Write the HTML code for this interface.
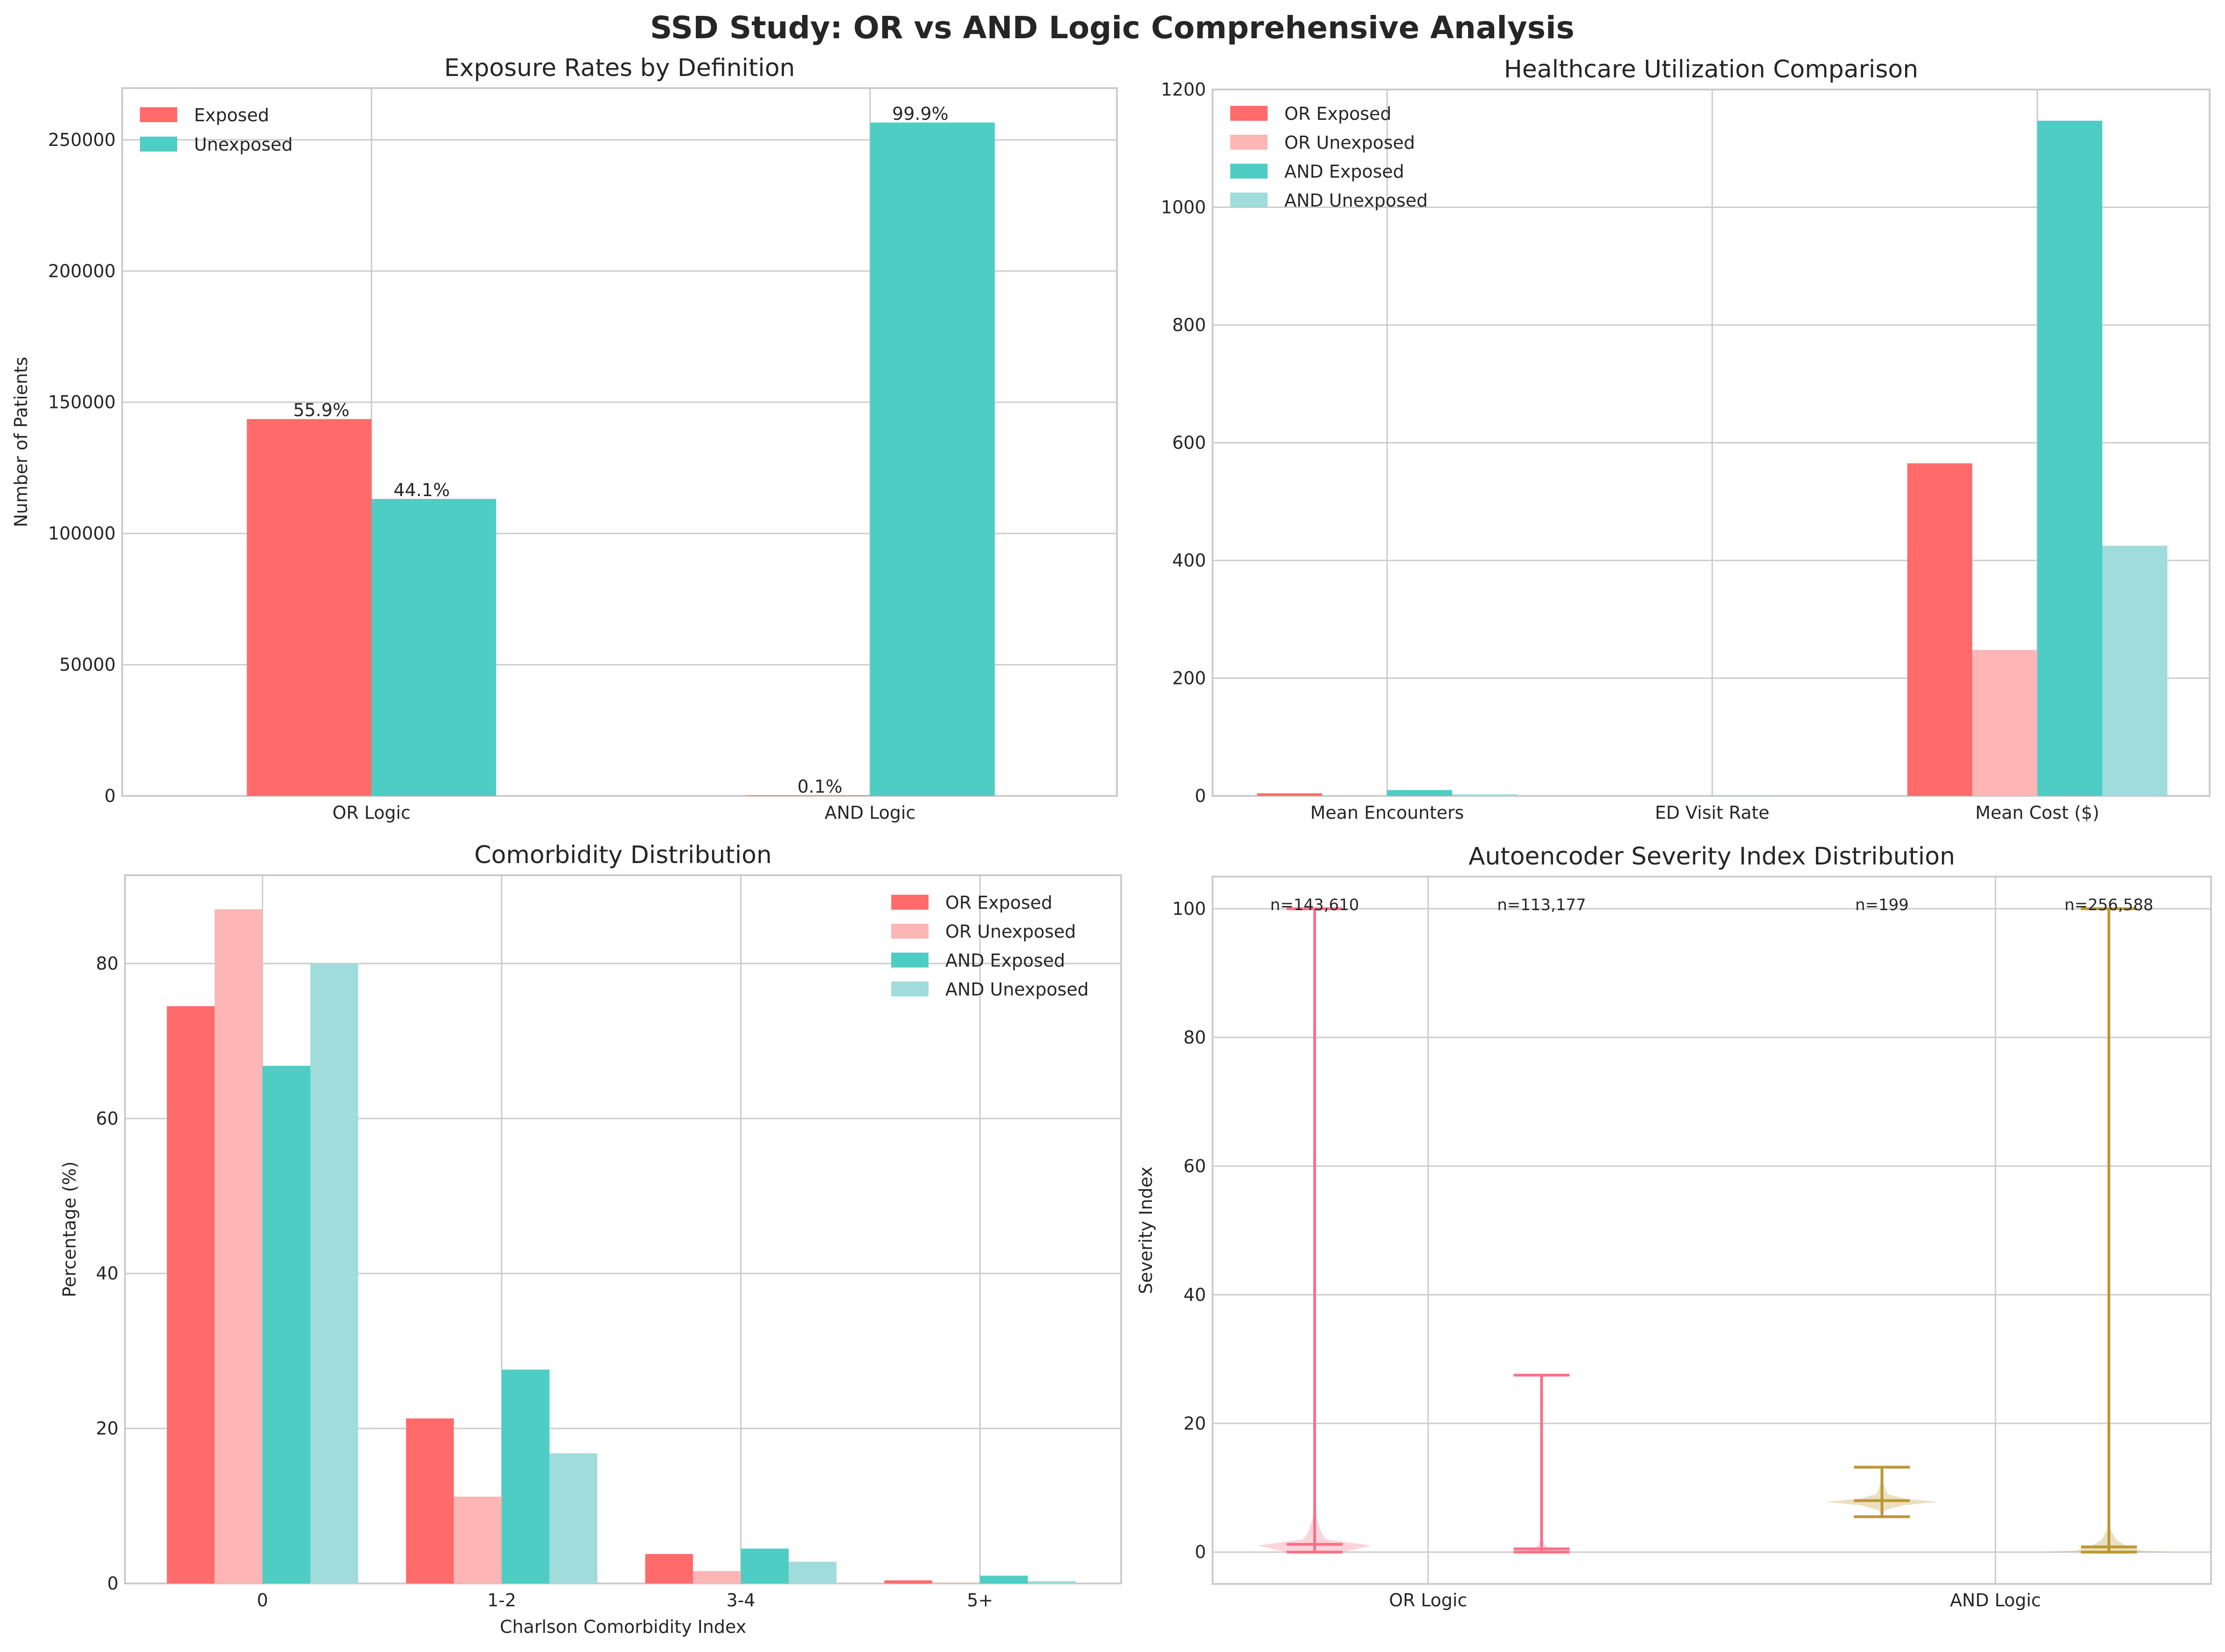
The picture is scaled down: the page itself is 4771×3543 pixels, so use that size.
<!DOCTYPE html>
<html><head><meta charset="utf-8"><style>
html,body{margin:0;padding:0;background:#fff}
svg{display:block}
text{font-family:"DejaVu Sans","Liberation Sans",sans-serif;fill:#262626}
</style></head><body>
<svg id="fig" width="4771" height="3543" viewBox="0 0 4771 3543" xmlns="http://www.w3.org/2000/svg">
<text x="2385" y="82" font-size="66" font-weight="bold" text-anchor="middle">SSD Study: OR vs AND Logic Comprehensive Analysis</text>
</svg>
<script>
// ---- Panel 1 data
const p1Cats = ["OR Logic","AND Logic"];
const p1Exposed = [143610, 199];
const p1Unexposed = [113177, 256588];
const p1ExpPct = ["55.9%","0.1%"];
const p1UnexpPct = ["44.1%","99.9%"];
const p1Ticks = [0,50000,100000,150000,200000,250000];
// ---- Panel 2 data
const p2Cats = ["Mean Encounters","ED Visit Rate","Mean Cost ($)"];
const p2OrExp = [4.5, 0.1, 565];
const p2OrUnexp = [0.3, 0.05, 248];
const p2AndExp = [10, 0.2, 1147];
const p2AndUnexp = [2.9, 0.05, 425];
const p2Ticks = [0,200,400,600,800,1000,1200];
// ---- Panel 3 data
const p3Cats = ["0","1-2","3-4","5+"];
const p3OrExp = [74.5, 21.3, 3.8, 0.4];
const p3OrUnexp = [87, 11.2, 1.6, 0.1];
const p3AndExp = [66.8, 27.6, 4.5, 1.0];
const p3AndUnexp = [80, 16.8, 2.8, 0.3];
const p3Ticks = [0,20,40,60,80];
// ---- Panel 4 data
const p4Pos = [-0.2, 0.2, 0.8, 1.2];
const p4Min = [0, 0, 5.5, 0];
const p4Max = [100, 27.5, 13.2, 100];
const p4Median = [1.2, 0.5, 8, 0.8];
const p4N = ["n=143,610","n=113,177","n=199","n=256,588"];
const p4ProfileY = [[0,1,2,3,5,8],[0,0.3,1,2,3],[5.5,6.5,7.3,7.8,8.3,9,10.5,12,13.2],[0,0.2,1,2,3.5,6]];
const p4ProfileW = [[0.05,0.1,0.02,0.012,0.004,0],[0.05,0.02,0.006,0.002,0],[0,0.005,0.04,0.1,0.04,0.01,0.003,0.001,0],[0.12,0.06,0.03,0.012,0.003,0]];
const p4Ticks = [0,20,40,60,80,100];
const p4TickCats = ["OR Logic","AND Logic"];

const NS="http://www.w3.org/2000/svg";
const svg=document.getElementById('fig');
const FS=38;
function mk(tag,attrs,parent){const e=document.createElementNS(NS,tag);for(const k in attrs)e.setAttribute(k,attrs[k]);(parent||svg).appendChild(e);return e;}
function txt(s,attrs,parent){const e=mk('text',attrs,parent);e.textContent=s;return e;}

function makeAxes(name,L,R,T,B,xmin,xmax,ymin,ymax){
  const g=mk('g',{});
  
  
  const sx=v=>L+(v-xmin)/(xmax-xmin)*(R-L);
  const sy=v=>B-(v-ymin)/(ymax-ymin)*(B-T);
  return {g,sx,sy,L,R,T,B};
}
function frame(ax){
  const r=mk('rect',{x:ax.L,y:ax.T,width:ax.R-ax.L,height:ax.B-ax.T,fill:'none',stroke:'#cccccc','stroke-width':4},ax.g);
  
  
}
function yGrid(ax,ticks){
  ticks.forEach(t=>{const y=ax.sy(t);
    const l=mk('line',{x1:ax.L,x2:ax.R,y1:y,y2:y,stroke:'#cccccc','stroke-width':3},ax.g);
    
    
    const t1=txt(String(t),{x:ax.L-14,y:y+13,'font-size':FS,'text-anchor':'end'},ax.g);
    
    
  });
}
function xGrid(ax,pos,labels,ly){
  pos.forEach((p,i)=>{const x=ax.sx(p);
    const l=mk('line',{x1:x,x2:x,y1:ax.T,y2:ax.B,stroke:'#cccccc','stroke-width':3},ax.g);
    
    
    const t1=txt(labels[i],{x:x,y:ly,'font-size':FS,'text-anchor':'middle'},ax.g);
    
    
  });
}
function bar(ax,xc,w,v,color,name){
  const x0=ax.sx(xc-w/2),x1=ax.sx(xc+w/2),y=ax.sy(v),y0=ax.sy(0);
  const r=mk('rect',{x:x0,y:Math.min(y,y0),width:x1-x0,height:Math.abs(y0-y),fill:color},ax.g);
  
  
}
function title(ax,s,name){const t=txt(s,{x:(ax.L+ax.R)/2,y:ax.T-26,'font-size':52,'text-anchor':'middle'},ax.g);
  
  }
function ylabel(ax,s,x){const y=(ax.T+ax.B)/2;const t=txt(s,{x:x,y:y,'font-size':FS,'text-anchor':'middle',transform:`rotate(-90 ${x} ${y})`},ax.g);
  
  }
function legend(ax,x,y0,dy,items){
  items.forEach((it,i)=>{const y=y0+i*dy;
    const r=mk('rect',{x:x,y:y,width:80,height:32,fill:it[1]},ax.g);
    
    
    const t=txt(it[0],{x:x+116,y:y+30,'font-size':FS},ax.g);
    
    
  });
}
const C1='#FF6B6B',C2='#FDB5B5',C3='#4ECDC4',C4='#9FDCDB';

// Panel 1
const a1=makeAxes('exposure-rates-panel',262,2395,189,1707,-0.5,1.495,0,269700);
yGrid(a1,p1Ticks);
xGrid(a1,[0,1],p1Cats,1756);
frame(a1);
const w1=0.25;
p1Cats.forEach((c,i)=>{
  bar(a1,i-w1/2,w1,p1Exposed[i],C1,'bar-exposed');
  bar(a1,i+w1/2,w1,p1Unexposed[i],C3,'bar-unexposed');
  const t1=txt(p1ExpPct[i],{x:a1.sx(i-w1/2)+26,y:a1.sy(p1Exposed[i])-6,'font-size':FS,'text-anchor':'middle'},a1.g);
  
  
  const t2=txt(p1UnexpPct[i],{x:a1.sx(i+w1/2)-26,y:a1.sy(p1Unexposed[i])-6,'font-size':FS,'text-anchor':'middle'},a1.g);
  
  
});
title(a1,'Exposure Rates by Definition','panel-title');
ylabel(a1,'Number of Patients',58);
legend(a1,300,230,63,[['Exposed',C1],['Unexposed',C3]]);

// Panel 2
const a2=makeAxes('healthcare-utilization-panel',2600,4738,192,1707,-0.537,2.53,0,1200);
yGrid(a2,p2Ticks);
xGrid(a2,[0,1,2],p2Cats,1756);
frame(a2);
p2Cats.forEach((c,i)=>{
  bar(a2,i-0.3,0.2,p2OrExp[i],C1,'bar-or-exposed');
  bar(a2,i-0.1,0.2,p2OrUnexp[i],C2,'bar-or-unexposed');
  bar(a2,i+0.1,0.2,p2AndExp[i],C3,'bar-and-exposed');
  bar(a2,i+0.3,0.2,p2AndUnexp[i],C4,'bar-and-unexposed');
});
title(a2,'Healthcare Utilization Comparison','panel-title');
legend(a2,2638,227,62,[['OR Exposed',C1],['OR Unexposed',C2],['AND Exposed',C3],['AND Unexposed',C4]]);

// Panel 3
const a3=makeAxes('comorbidity-panel',268,2404,1877,3396,-0.575,3.59,0,91.4);
yGrid(a3,p3Ticks);
xGrid(a3,[0,1,2,3],p3Cats,3445);
frame(a3);
p3Cats.forEach((c,i)=>{
  bar(a3,i-0.3,0.2,p3OrExp[i],C1,'bar-or-exposed');
  bar(a3,i-0.1,0.2,p3OrUnexp[i],C2,'bar-or-unexposed');
  bar(a3,i+0.1,0.2,p3AndExp[i],C3,'bar-and-exposed');
  bar(a3,i+0.3,0.2,p3AndUnexp[i],C4,'bar-and-unexposed');
});
title(a3,'Comorbidity Distribution','panel-title');
ylabel(a3,'Percentage (%)',162);
const xl3=txt('Charlson Comorbidity Index',{x:(268+2404)/2,y:3502,'font-size':FS,'text-anchor':'middle'},a3.g);


legend(a3,1911,1919,62,[['OR Exposed',C1],['OR Unexposed',C2],['AND Exposed',C3],['AND Unexposed',C4]]);

// Panel 4
const a4=makeAxes('severity-index-panel',2600,4741,1880,3397,-0.38,1.38,-4.95,105);
yGrid(a4,p4Ticks);
xGrid(a4,[0,1],p4TickCats,3445);
frame(a4);
const vCols=['#f77189','#f77189','#bb9832','#bb9832'];
const vFill=['rgba(247,113,137,0.3)','rgba(247,113,137,0.3)','rgba(187,152,50,0.3)','rgba(187,152,50,0.3)'];
p4Pos.forEach((p,i)=>{
  const ys=p4ProfileY[i],ws=p4ProfileW[i];
  let d='';
  ys.forEach((y,k)=>{d+=(k?'L':'M')+a4.sx(p+ws[k])+' '+a4.sy(y)+' ';});
  for(let k=ys.length-1;k>=0;k--){d+='L'+a4.sx(p-ws[k])+' '+a4.sy(ys[k])+' ';}
  const body=mk('path',{d:d+'Z',fill:vFill[i],stroke:'none'},a4.g);
  
  
  const x=a4.sx(p),hw=60;
  const st=mk('line',{x1:x,x2:x,y1:a4.sy(p4Min[i]),y2:a4.sy(p4Max[i]),stroke:vCols[i],'stroke-width':6},a4.g);
  
  
  [p4Min[i],p4Max[i],p4Median[i]].forEach(v=>{
    const c=mk('line',{x1:x-hw,x2:x+hw,y1:a4.sy(v),y2:a4.sy(v),stroke:vCols[i],'stroke-width':6},a4.g);
    
    
  });
  const n=txt(p4N[i],{x:x,y:a4.sy(100)+3,'font-size':34,'text-anchor':'middle'},a4.g);
  
  
});
title(a4,'Autoencoder Severity Index Distribution','panel-title');
ylabel(a4,'Severity Index',2470);
</script>
</body></html>
